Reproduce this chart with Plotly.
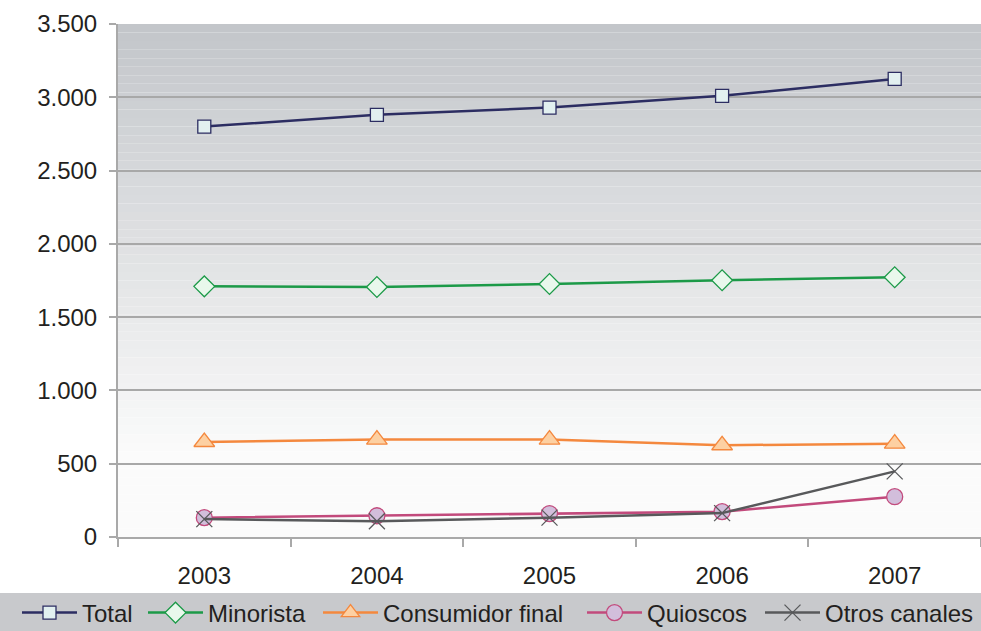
import plotly.graph_objects as go

# Data
years = ["2003", "2004", "2005", "2006", "2007"]
total = [2800, 2880, 2930, 3010, 3125]
minorista = [1710, 1706, 1726, 1752, 1772]
consumidor_final = [648, 665, 665, 626, 637]
quioscos = [132, 145, 160, 173, 275]
otros_canales = [122, 108, 132, 163, 448]
y_ticks = [0, 500, 1000, 1500, 2000, 2500, 3000, 3500]

fig = go.Figure()


def add_series(name, values, line_color, symbol, fill, size, legend):
    fig.add_trace(
        go.Scatter(
            x=years,
            y=values,
            name=name,
            mode="lines+markers",
            legend=legend,
            line=dict(color=line_color, width=2.5),
            marker=dict(
                symbol=symbol,
                size=size,
                color=fill,
                line=dict(color=line_color, width=1.3),
            ),
        )
    )


add_series("Total", total, "#2c2d62", "square", "#e2f0f0", 13, "legend")
add_series("Minorista", minorista, "#1c9a48", "diamond", "#e9f8ec", 16, "legend2")
add_series("Consumidor final", consumidor_final, "#f4883e", "triangle-up", "#fdd0a2", 18, "legend3")
add_series("Quioscos", quioscos, "#c24a7c", "circle", "#d2bedb", 16, "legend4")
add_series("Otros canales", otros_canales, "#58595b", "x-thin", "#58595b", 16, "legend5")

# Gradient background for the plot area, done with thin bands
shapes = []
n = 60
top = (195, 198, 202)
bottom = (251, 251, 251)
for i in range(n):
    t = i / (n - 1)
    t2 = min(1.0, t / 0.85)
    c = [round(top[k] + (bottom[k] - top[k]) * t2) for k in range(3)]
    shapes.append(
        dict(
            type="rect", xref="paper", yref="paper",
            x0=0, x1=1, y0=1 - (i + 1) / n, y1=1 - i / n,
            fillcolor="rgb(%d,%d,%d)" % tuple(c),
            line=dict(width=0), layer="below",
        )
    )

# Gray bar behind the legend
shapes.append(
    dict(
        type="rect", xref="paper", yref="paper",
        x0=-0.14, x1=1.0, y0=-0.19, y1=-0.109,
        fillcolor="#c8c9cc", line=dict(width=0), layer="below",
    )
)

# one legend per series so each entry sits where it is in the original
plot_w = 863.0
legend_px = [17, 143, 318, 582, 760]
legends = {}
for i, px in enumerate(legend_px):
    key = "legend" if i == 0 else "legend%d" % (i + 1)
    legends[key] = dict(
        orientation="h",
        x=(px - 118) / plot_w, xanchor="left",
        yref="container", y=18 / 631, yanchor="middle",
        bgcolor="rgba(0,0,0,0)",
        font=dict(size=24),
        itemwidth=55,
    )

fig.update_layout(
    width=981,
    height=631,
    margin=dict(l=118, r=0, t=24, b=94),
    paper_bgcolor="white",
    plot_bgcolor="rgba(0,0,0,0)",
    separators=",.",
    font=dict(family="Liberation Sans, Arial, sans-serif", size=24, color="#231f20"),
    shapes=shapes,
    showlegend=True,
    xaxis=dict(
        type="category",
        range=[-0.5, 4.5],
        showgrid=False,
        showline=True,
        linecolor="#a9a9a9",
        linewidth=2,
        ticks="outside",
        tickson="boundaries",
        ticklen=8,
        tickcolor="#a9a9a9",
        tickwidth=1.5,
        ticklabelstandoff=16,
        tickfont=dict(size=24),
        automargin=False,
        fixedrange=True,
    ),
    yaxis=dict(
        range=[0, 3500],
        tickvals=y_ticks,
        tickformat=",d",
        showgrid=True,
        gridcolor="#a8a8a8",
        gridwidth=1.5,
        showline=True,
        linecolor="#a9a9a9",
        linewidth=2,
        ticks="outside",
        ticklen=7,
        tickcolor="#a9a9a9",
        tickwidth=1.5,
        ticklabelstandoff=7,
        zeroline=False,
        tickfont=dict(size=24),
        automargin=False,
        fixedrange=True,
    ),
    **legends,
)

fig.write_html(
    "out.html",
    config={"displayModeBar": False},
    post_script="document.body.style.margin='0';document.body.style.overflow='hidden';"
    "Plotly.Plots.resize(document.getElementById('{plot_id}'));",
)
